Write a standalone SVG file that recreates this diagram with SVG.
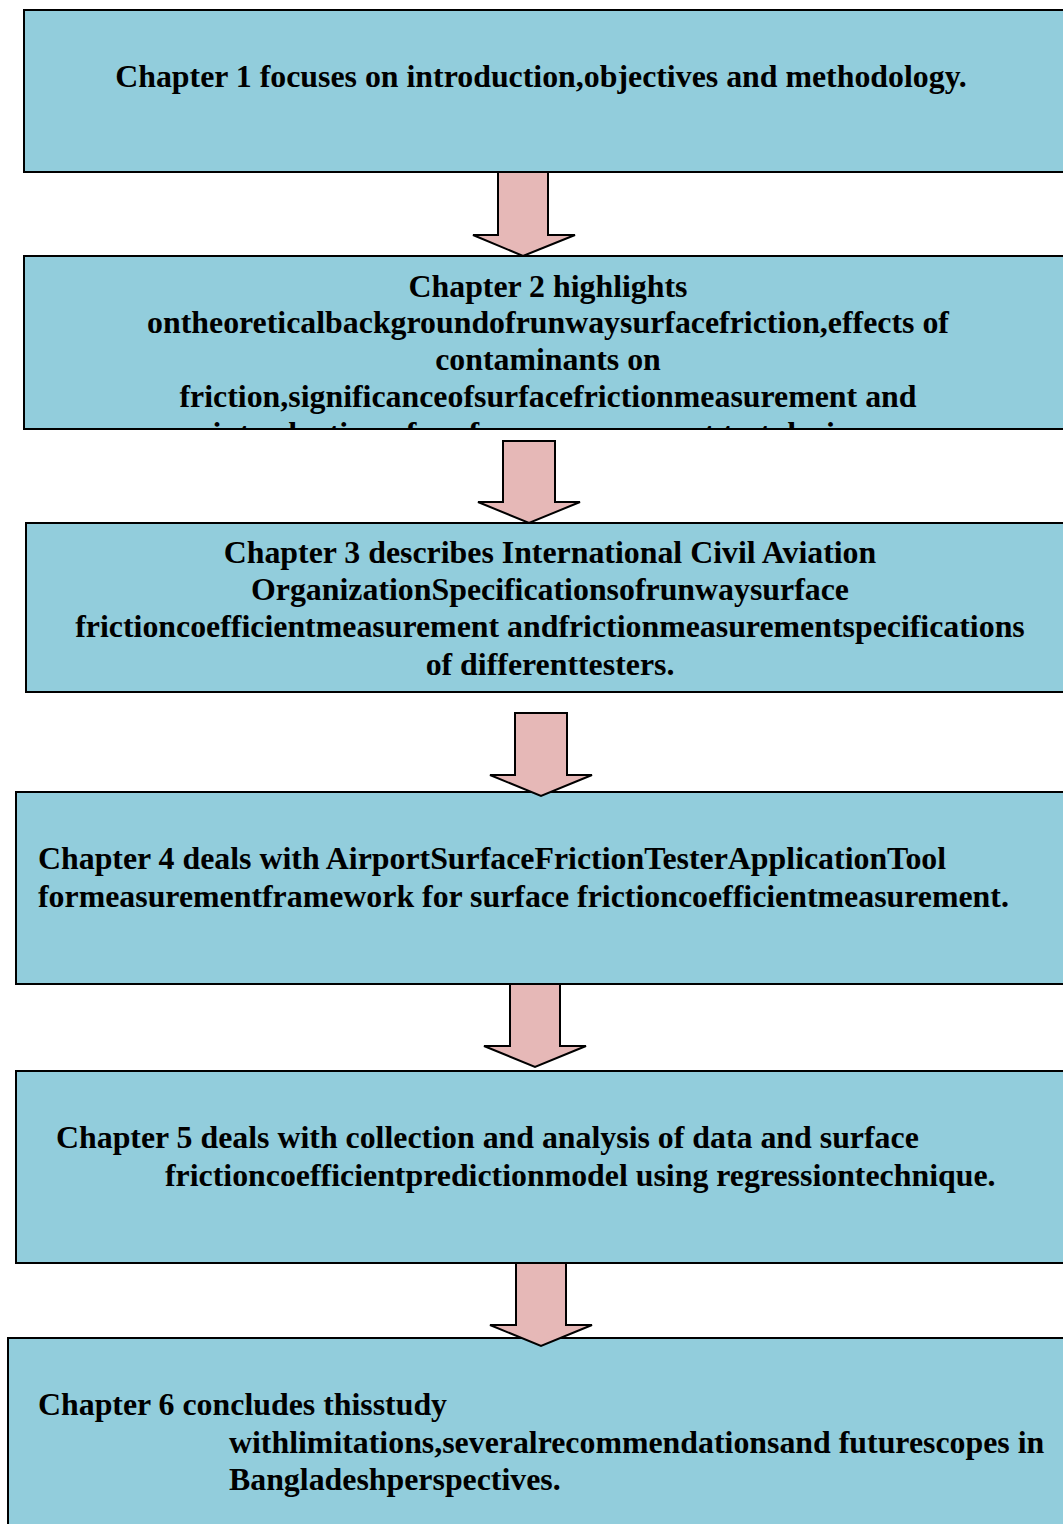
<svg xmlns="http://www.w3.org/2000/svg" width="1063" height="1524" viewBox="0 0 1063 1524">
<style>
.box{fill:#92CDDC;stroke:#000;stroke-width:2}
.arr{fill:#E6B8B7;stroke:#000;stroke-width:2;stroke-linejoin:miter}
text{font-family:"Liberation Serif","Times New Roman",serif;font-weight:bold;font-size:31.85px;fill:#000}
.c{text-anchor:middle}
</style>
<defs>
<clipPath id="clip2"><rect x="24" y="256" width="1045" height="173"/></clipPath>
</defs>
<rect width="1063" height="1524" fill="#fff"/>
<g id="node1">
<rect class="box" x="24" y="10" width="1050" height="162"/>
<text class="c" x="541" y="87">Chapter 1 focuses on introduction,objectives and methodology.</text>
</g>
<g id="node2">
<rect class="box" x="24" y="256" width="1050" height="173"/>
<g clip-path="url(#clip2)">
<text class="c" x="548" y="297">Chapter 2 highlights</text>
<text class="c" x="548" y="333">ontheoreticalbackgroundofrunwaysurfacefriction,effects of</text>
<text class="c" x="548" y="370">contaminants on</text>
<text class="c" x="548" y="407">friction,significanceofsurfacefrictionmeasurement and</text>
<text class="c" x="548" y="444">introduction of surface measurement test devices.</text>
</g>
</g>
<g id="node3">
<rect class="box" x="26" y="523" width="1050" height="169"/>
<text class="c" x="550" y="563">Chapter 3 describes International Civil Aviation</text>
<text class="c" x="550" y="600">OrganizationSpecificationsofrunwaysurface</text>
<text class="c" x="550" y="637">frictioncoefficientmeasurement andfrictionmeasurementspecifications</text>
<text class="c" x="550" y="675">of differenttesters.</text>
</g>
<g id="node4">
<rect class="box" x="16" y="792" width="1060" height="192"/>
<text x="38" y="869">Chapter 4 deals with AirportSurfaceFrictionTesterApplicationTool</text>
<text x="38" y="907">formeasurementframework for surface frictioncoefficientmeasurement.</text>
</g>
<g id="node5">
<rect class="box" x="16" y="1071" width="1060" height="192"/>
<text x="56" y="1148">Chapter 5 deals with collection and analysis of data and surface</text>
<text x="165" y="1186">frictioncoefficientpredictionmodel using regressiontechnique.</text>
</g>
<g id="node6">
<rect class="box" x="8" y="1338" width="1070" height="200"/>
<text x="38" y="1415">Chapter 6 concludes thisstudy</text>
<text x="229" y="1453">withlimitations,severalrecommendationsand futurescopes in</text>
<text x="229" y="1490">Bangladeshperspectives.</text>
</g>
<g id="connectors">
<polygon class="arr" points="498,172 548,172 548,235 575,235 523,256 473,235 498,235"/>
<polygon class="arr" points="503,441 555,441 555,502 580,502 529,523 478,502 503,502"/>
<polygon class="arr" points="515,713 567,713 567,775 592,775 541,796 490,775 515,775"/>
<polygon class="arr" points="510,984 560,984 560,1046 586,1046 535,1067 484,1046 510,1046"/>
<polygon class="arr" points="516,1263 566,1263 566,1325 592,1325 541,1346 490,1325 516,1325"/>
</g>
</svg>
